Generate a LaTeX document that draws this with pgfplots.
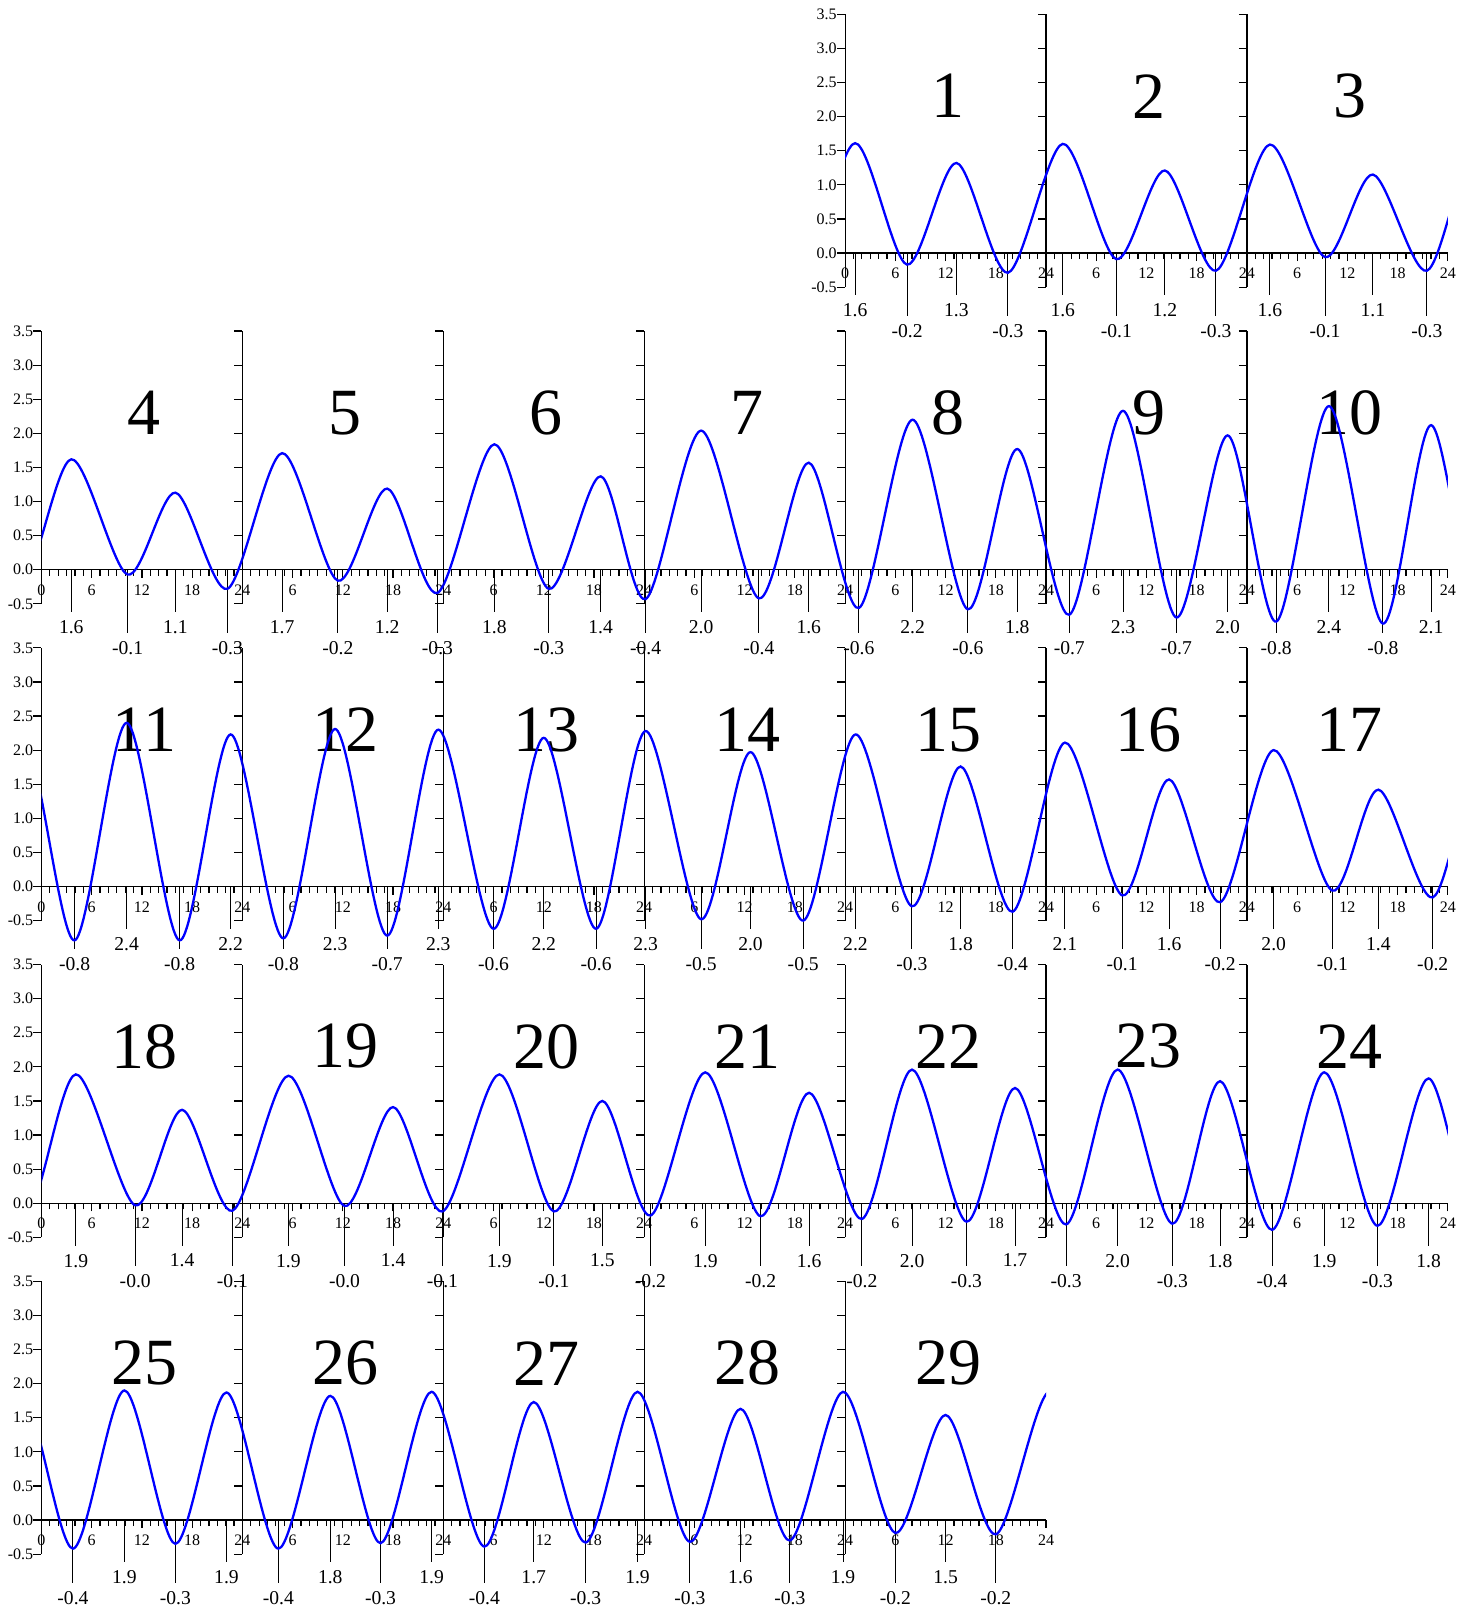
\documentclass[border=0pt]{standalone}
\usepackage{fontspec}
\setmainfont{Liberation Serif}
\usepackage{pgfplots}
\usepackage{pgfplotstable}
\pgfplotsset{compat=1.18}

% extremes of the tide: t = hours since day 1, 00:00; v = height; m = marker line end; lab = label
\pgfplotstableread{
t v m lab
-11.3 1.30 -0.62 1.3
-5.0 -0.20 -0.92 -0.2
1.2 1.61 -0.62 1.6
7.4 -0.17 -0.92 -0.2
13.3 1.32 -0.62 1.3
19.45 -0.29 -0.92 -0.3
26.0 1.60 -0.62 1.6
32.4 -0.09 -0.92 -0.1
38.2 1.21 -0.62 1.2
44.3 -0.26 -0.92 -0.3
50.74 1.59 -0.62 1.6
57.33 -0.06 -0.92 -0.1
63.05 1.15 -0.62 1.1
69.5 -0.26 -0.92 -0.3
75.56 1.62 -0.62 1.6
82.28 -0.07 -0.92 -0.1
88.0 1.13 -0.62 1.1
94.2 -0.28 -0.92 -0.3
100.75 1.71 -0.62 1.7
107.4 -0.16 -0.92 -0.2
113.3 1.19 -0.62 1.2
119.3 -0.34 -0.92 -0.3
126.1 1.84 -0.62 1.8
132.6 -0.28 -0.92 -0.3
138.8 1.37 -0.62 1.4
144.17 -0.43 -0.92 -0.4
150.8 2.04 -0.62 2.0
157.7 -0.42 -0.92 -0.4
163.66 1.57 -0.62 1.6
169.65 -0.56 -0.92 -0.6
176.07 2.20 -0.62 2.2
182.66 -0.58 -0.92 -0.6
188.57 1.77 -0.62 1.8
194.78 -0.66 -0.92 -0.7
201.2 2.33 -0.62 2.3
207.57 -0.70 -0.92 -0.7
213.7 1.97 -0.62 2.0
219.5 -0.76 -0.92 -0.8
225.8 2.40 -0.62 2.4
232.25 -0.79 -0.92 -0.8
238.0 2.12 -0.62 2.1
243.95 -0.79 -0.92 -0.8
250.17 2.40 -0.62 2.4
256.5 -0.79 -0.92 -0.8
262.6 2.23 -0.62 2.2
268.9 -0.76 -0.92 -0.8
275.07 2.31 -0.62 2.3
281.3 -0.72 -0.92 -0.7
287.4 2.30 -0.62 2.3
294.0 -0.62 -0.92 -0.6
300.0 2.18 -0.62 2.2
306.25 -0.62 -0.92 -0.6
312.17 2.28 -0.62 2.3
318.8 -0.48 -0.92 -0.5
324.7 1.97 -0.62 2.0
331.0 -0.50 -0.92 -0.5
337.24 2.23 -0.62 2.2
343.97 -0.29 -0.92 -0.3
349.8 1.76 -0.62 1.8
356.0 -0.37 -0.92 -0.4
362.26 2.11 -0.62 2.1
369.1 -0.13 -0.92 -0.1
374.7 1.57 -0.62 1.6
380.8 -0.23 -0.92 -0.2
387.2 2.00 -0.62 2.0
394.2 -0.06 -0.92 -0.1
399.7 1.42 -0.62 1.4
406.2 -0.16 -0.92 -0.2
412.1 1.89 -0.62 1.9
419.2 -0.03 -0.92 -0.0
424.8 1.37 -0.62 1.4
430.8 -0.11 -0.92 -0.1
437.5 1.87 -0.62 1.9
444.2 -0.04 -0.92 -0.0
450.0 1.41 -0.62 1.4
455.9 -0.12 -0.92 -0.1
462.7 1.89 -0.62 1.9
469.2 -0.12 -0.92 -0.1
475.0 1.50 -0.62 1.5
480.75 -0.18 -0.92 -0.2
487.3 1.92 -0.62 1.9
493.9 -0.19 -0.92 -0.2
499.7 1.62 -0.62 1.6
506.0 -0.23 -0.92 -0.2
512.0 1.96 -0.62 2.0
518.5 -0.27 -0.92 -0.3
524.3 1.69 -0.62 1.7
530.4 -0.31 -0.92 -0.3
536.55 1.96 -0.62 2.0
543.1 -0.30 -0.92 -0.3
548.8 1.79 -0.62 1.8
555.0 -0.39 -0.92 -0.4
561.24 1.92 -0.62 1.9
567.6 -0.33 -0.92 -0.3
573.7 1.83 -0.62 1.8
579.76 -0.42 -0.92 -0.4
585.9 1.90 -0.62 1.9
592.0 -0.35 -0.92 -0.3
598.1 1.87 -0.62 1.9
604.3 -0.42 -0.92 -0.4
610.5 1.82 -0.62 1.8
616.5 -0.34 -0.92 -0.3
622.6 1.88 -0.62 1.9
628.9 -0.39 -0.92 -0.4
634.8 1.73 -0.62 1.7
641.0 -0.33 -0.92 -0.3
647.2 1.88 -0.62 1.9
653.45 -0.32 -0.92 -0.3
659.5 1.63 -0.62 1.6
665.4 -0.30 -0.92 -0.3
671.75 1.88 -0.62 1.9
678.0 -0.19 -0.92 -0.2
684.0 1.54 -0.62 1.5
690.0 -0.21 -0.92 -0.2
696.5 1.89 -0.62 1.9
702.7 -0.20 -0.92 -0.2
}\tide

\pgfplotsset{
  panelgeom/.style={scale only axis, width=100.45pt, height=136.4pt,
    anchor=south west, ymin=-0.5, ymax=3.5, clip=false},
  deco/.style={panelgeom,
    axis x line=middle, axis y line=left,
    axis line style={-, black, line width=0.6pt},
    hide obscured x ticks=false, hide obscured y ticks=false,
    tick align=outside, major tick length=4pt, minor tick length=3pt,
    tick style={black, line width=0.6pt},
    ytick={-0.5,0,0.5,1,1.5,2,2.5,3,3.5},
    minor x tick num=5, minor y tick num=0,
    xticklabel style={font=\fontsize{8}{9}\selectfont, anchor=north, inner sep=0pt, yshift=-3.3pt},
    yticklabel style={font=\fontsize{8}{9}\selectfont, anchor=east, inner sep=0pt},
  },
  curve/.style={panelgeom, axis lines=none},
}

\begin{document}
\begin{tikzpicture}
\useasboundingbox (0pt,0pt) rectangle (735.5pt,-806pt);
% axes, extreme markers and day numbers
\foreach \dd in {1,...,29}{
  \pgfmathtruncatemacro\kk{\dd+3}
  \pgfmathtruncatemacro\row{(\kk+0.5)/7}
  \pgfmathtruncatemacro\col{\kk-7*\row}
  \pgfmathtruncatemacro\first{(\col==0)||(\dd==1)}
  \pgfmathsetmacro\X{20.75+100.45*\col}
  \pgfmathsetmacro\Y{-(143.55+158.375*\row)}
  \pgfmathtruncatemacro\lo{(\dd-1)*24}
  \pgfmathtruncatemacro\hi{\dd*24}
  \pgfmathtruncatemacro\ta{\lo+6}
  \pgfmathtruncatemacro\tb{\lo+12}
  \pgfmathtruncatemacro\tc{\lo+18}
  \pgfmathsetmacro\cx{\lo+12.3}
  \ifnum\first=1
    \pgfplotsset{collab/.style={xticklabels={0,6,12,18,24},
      yticklabels={-0.5,0.0,0.5,1.0,1.5,2.0,2.5,3.0,3.5}}}
  \else
    \pgfplotsset{collab/.style={xticklabels={,6,12,18,24}, yticklabels={,,}}}
  \fi
  \begin{axis}[deco, collab, at={(\X pt,\Y pt)}, xmin=\lo, xmax=\hi,
      xtick={\lo,\ta,\tb,\tc,\hi}]
    \addplot[black, line width=0.5pt, ycomb, restrict x to domain=\lo:\hi,
      nodes near coords, point meta=explicit symbolic,
      every node near coord/.append style={font=\fontsize{9.8}{11}\selectfont,
        anchor=north, inner sep=0pt, yshift=-4pt, black}]
      table[x=t, y=m, meta=lab] {\tide};
    \node[font=\fontsize{33}{36}\selectfont, inner sep=0pt] at (axis cs:\cx,2.3) {\dd};
  \end{axis}
}
% tide curves, each clipped to its day
\foreach \dd in {1,...,29}{
  \pgfmathtruncatemacro\kk{\dd+3}
  \pgfmathtruncatemacro\row{(\kk+0.5)/7}
  \pgfmathtruncatemacro\col{\kk-7*\row}
  \pgfmathsetmacro\X{20.75+100.45*\col}
  \pgfmathsetmacro\Y{-(143.55+158.375*\row)}
  \pgfmathsetmacro\Xr{\X+100.45}
  \pgfmathsetmacro\Yb{\Y-25}
  \pgfmathsetmacro\Yt{\Y+140}
  \pgfmathtruncatemacro\lo{(\dd-1)*24}
  \pgfmathtruncatemacro\hi{\dd*24}
  \begin{scope}
    \clip (\X pt,\Yb pt) rectangle (\Xr pt,\Yt pt);
    \begin{axis}[curve, at={(\X pt,\Y pt)}, xmin=\lo, xmax=\hi]
      \addplot[blue, line width=1.15pt, smooth] table[x=t, y=v] {\tide};
    \end{axis}
  \end{scope}
}
\end{tikzpicture}
\end{document}
